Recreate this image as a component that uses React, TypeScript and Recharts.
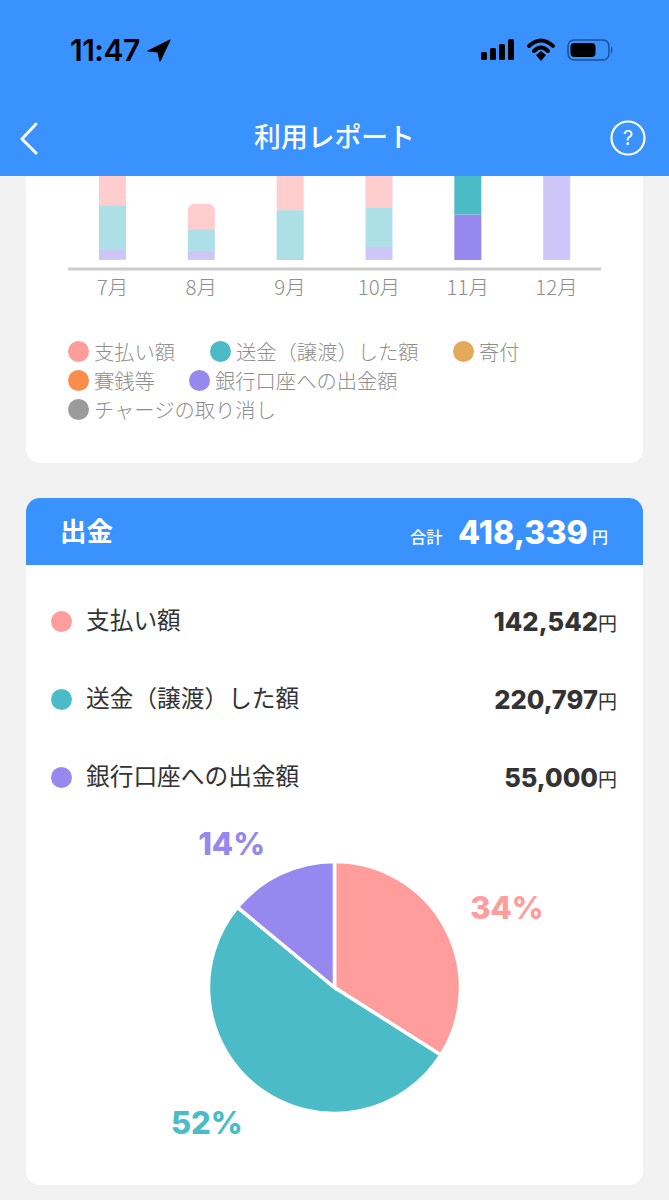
import { BarChart, Bar, XAxis, YAxis, Cell, PieChart, Pie } from "recharts";

const months = ["7月", "8月", "9月", "10月", "11月", "12月"];
const payments = [60000, 31000, 70000, 60000, 142542, 0];
const transfers = [54000, 26000, 60000, 47000, 220797, 0];
const withdrawals = [12000, 11000, 0, 16000, 55000, 190000];
const selectedMonth = "11月";

const PINK = "#FF9C9C";
const TEAL = "#4ABBC7";
const PURPLE = "#9688EE";
const BLUE = "#3A92FF";

const legendRows = [
  [
    { label: "支払い額", color: PINK, x: 68 },
    { label: "送金（譲渡）した額", color: TEAL, x: 210 },
    { label: "寄付", color: "#E5A95C", x: 453 },
  ],
  [
    { label: "賽銭等", color: "#F98E4B", x: 68 },
    { label: "銀行口座への出金額", color: PURPLE, x: 189 },
  ],
  [{ label: "チャージの取り消し", color: "#9B9B9B", x: 68 }],
];

const rowLabels = ["支払い額", "送金（譲渡）した額", "銀行口座への出金額"];
const rowAmounts = ["142,542", "220,797", "55,000"];
const rowColors = [PINK, TEAL, PURPLE];

const pieValues = [34, 52, 14];
const pieLabels = ["34%", "52%", "14%"];
const labelNudges = [
  [6, 12],
  [-16, -19],
  [-22, 28],
];

const chartData = months.map((month, i) => ({
  month,
  payments: payments[i],
  transfers: transfers[i],
  withdrawals: withdrawals[i],
}));
const pieData = pieValues.map((value, i) => ({ name: rowLabels[i], value }));

const jp = '"Noto Sans CJK JP", sans-serif';
const latin = 'Inter, "Noto Sans CJK JP", sans-serif';

function abs(left: number, top: number, extra: any = {}): any {
  return { position: "absolute", left, top, whiteSpace: "nowrap", ...extra };
}

function pieLabel(props: any) {
  const { cx, cy, midAngle, index } = props;
  const rad = (midAngle * Math.PI) / 180;
  const x = cx + 190 * Math.cos(rad) + labelNudges[index][0];
  const y = cy - 190 * Math.sin(rad) + labelNudges[index][1];
  return (
    <text
      x={x}
      y={y}
      fill={rowColors[index]}
      textAnchor="middle"
      dominantBaseline="central"
      fontFamily={latin}
      fontWeight={800}
      fontSize={31}
    >
      {pieLabels[index]}
    </text>
  );
}

function StatusBar() {
  return (
    <>
      <div style={abs(70, 32, { fontFamily: latin, fontSize: 30, lineHeight: "36px", fontWeight: 600, color: "#000", letterSpacing: -0.5 })}>
        11:47
      </div>
      <svg style={abs(0, 0)} width={669} height={100}>
        <path d="M170 40 L148 51 L158 52 L160 61 Z" fill="#000" stroke="#000" strokeWidth={1.2} strokeLinejoin="round" />
        <rect x={481} y={52} width={6} height={8} rx={1.5} fill="#000" />
        <rect x={490} y={48} width={6} height={12} rx={1.5} fill="#000" />
        <rect x={499} y={44} width={6} height={16} rx={1.5} fill="#000" />
        <rect x={508} y={39} width={6} height={21} rx={1.5} fill="#000" />
        <path d="M529 46 Q541 35 553 46" fill="none" stroke="#000" strokeWidth={4} strokeLinecap="round" />
        <path d="M534 51 Q541 44 548 51" fill="none" stroke="#000" strokeWidth={4} strokeLinecap="round" />
        <path d="M536 55 L541 51 L546 55 L541 61 Z" fill="#000" />
        <rect x={568} y={40} width={41} height={20} rx={6} fill="none" stroke="#1c4f8f" strokeWidth={1.5} />
        <rect x={570.5} y={43} width={25} height={14} rx={4} fill="#000" />
        <path d="M611 46 Q614 50 611 54 Z" fill="#1c4f8f" />
      </svg>
    </>
  );
}

export default function App() {
  return (
    <div style={{ position: "absolute", left: 0, top: 0, width: 669, height: 1200, overflow: "hidden", background: "#F2F2F2" }}>
      <div style={abs(26, 120, { width: 617, height: 343, background: "#fff", borderRadius: 14 })} />

      <div style={abs(0, -158)}>
        <BarChart width={669} height={467} data={chartData} margin={{ top: 0, right: 68, bottom: 0, left: 68 }} barSize={27}>
          <XAxis
            dataKey="month"
            height={40}
            tickLine={false}
            tickMargin={5}
            axisLine={{ stroke: "#CCCCCC", strokeWidth: 3 }}
            tick={{ fill: "#8E8E8E", fontSize: 20.5, fontFamily: jp, fontWeight: 300 }}
            interval={0}
          />
          <YAxis hide domain={[-11000, 505000]} />
          <Bar dataKey="withdrawals" stackId="a" fill={PURPLE} isAnimationActive={false}>
            {months.map((m) => (
              <Cell key={m} fill={PURPLE} fillOpacity={m === selectedMonth ? 1 : 0.48} />
            ))}
          </Bar>
          <Bar dataKey="transfers" stackId="a" fill={TEAL} isAnimationActive={false}>
            {months.map((m) => (
              <Cell key={m} fill={TEAL} fillOpacity={m === selectedMonth ? 1 : 0.45} />
            ))}
          </Bar>
          <Bar dataKey="payments" stackId="a" fill={PINK} radius={[7, 7, 0, 0]} isAnimationActive={false}>
            {months.map((m) => (
              <Cell key={m} fill={PINK} fillOpacity={m === selectedMonth ? 1 : 0.5} />
            ))}
          </Bar>
        </BarChart>
      </div>

      <div style={abs(0, 0, { width: 669, height: 176, background: BLUE })} />
      <StatusBar />
      <div style={abs(0, 117, { width: 669, textAlign: "center", color: "#fff", fontFamily: jp, fontSize: 26.8, lineHeight: "38px", fontWeight: 500 })}>
        利用レポート
      </div>
      <svg style={abs(0, 110)} width={669} height={60}>
        <path d="M36 14 L22 29 L36 43" fill="none" stroke="#fff" strokeWidth={3} strokeLinecap="round" strokeLinejoin="round" />
        <circle cx={628} cy={28} r={16.5} fill="none" stroke="#fff" strokeWidth={2.2} />
        <text x={628} y={35} textAnchor="middle" fill="#fff" fontSize={20} fontFamily={latin}>?</text>
      </svg>

      {legendRows.map((row, r) =>
        row.map((item) => (
          <div key={item.label}>
            <div style={abs(item.x, 341 + r * 29, { width: 21, height: 21, borderRadius: "50%", background: item.color })} />
            <div style={abs(item.x + 26, 336 + r * 29, { fontFamily: jp, fontSize: 20.3, lineHeight: "31px", fontWeight: 300, color: "#8E8E8E" })}>
              {item.label}
            </div>
          </div>
        ))
      )}

      <div style={abs(26, 498, { width: 617, height: 687, background: "#fff", borderRadius: 14 })} />
      <div style={abs(26, 498, { width: 617, height: 67, background: BLUE, borderRadius: "14px 14px 0 0" })} />
      <div style={abs(60, 512, { fontFamily: jp, fontSize: 26.5, lineHeight: "36px", fontWeight: 700, color: "#fff" })}>出金</div>
      <div style={abs(410, 525, { fontFamily: jp, fontSize: 16.3, lineHeight: "22px", fontWeight: 500, color: "#fff" })}>合計</div>
      <div style={abs(458, 512, { fontFamily: latin, fontSize: 32.2, lineHeight: "42px", fontWeight: 800, color: "#fff" })}>418,339</div>
      <div style={abs(592, 525, { fontFamily: jp, fontSize: 16, lineHeight: "22px", fontWeight: 500, color: "#fff" })}>円</div>

      {rowLabels.map((label, i) => (
        <div key={label}>
          <div style={abs(51, 611 + i * 78, { width: 21, height: 21, borderRadius: "50%", background: rowColors[i] })} />
          <div style={abs(86, 602 + i * 78, { fontFamily: jp, fontSize: 23.7, lineHeight: "34px", color: "#333" })}>{label}</div>
          <div style={abs(0, 604 + i * 78, { width: 617, textAlign: "right", color: "#333", fontFamily: latin, fontSize: 25.5, lineHeight: "36px", fontWeight: 800 })}>
            {rowAmounts[i]}
            <span style={{ fontFamily: jp, fontSize: 19, fontWeight: 400 }}>円</span>
          </div>
        </div>
      ))}

      <div style={abs(0, 800)}>
        <PieChart width={669} height={385} margin={{ top: 0, right: 0, bottom: 0, left: 0 }}>
          <Pie
            data={pieData}
            dataKey="value"
            nameKey="name"
            cx={334.5}
            cy={187.5}
            innerRadius={0}
            outerRadius={126}
            startAngle={90}
            endAngle={-270}
            stroke="#fff"
            strokeWidth={3.5}
            label={pieLabel}
            labelLine={false}
            isAnimationActive={false}
          >
            {pieData.map((d, i) => (
              <Cell key={d.name} fill={rowColors[i]} />
            ))}
          </Pie>
        </PieChart>
      </div>
    </div>
  );
}
